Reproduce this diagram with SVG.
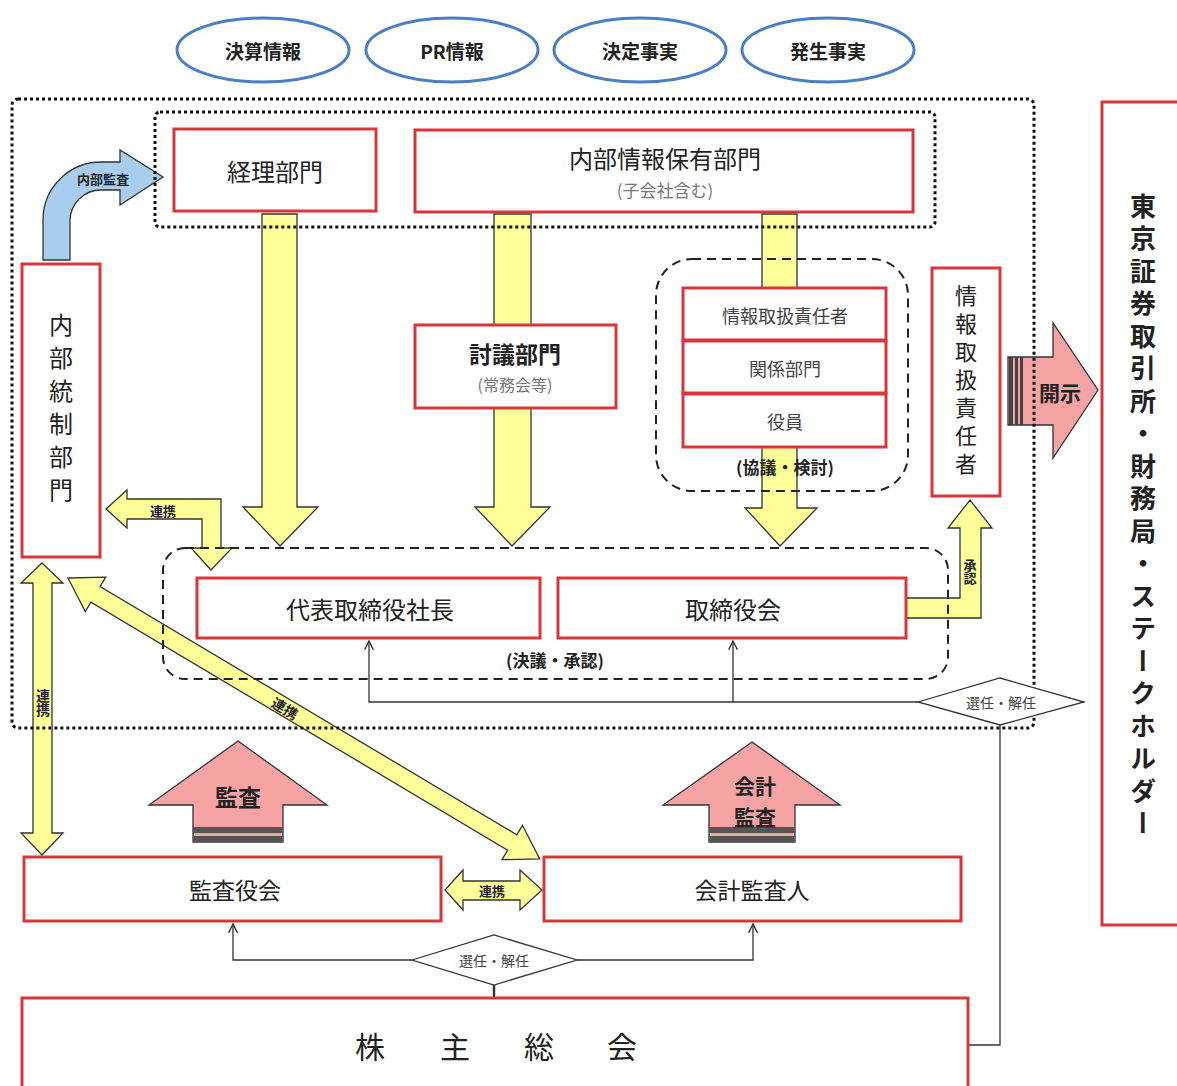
<svg xmlns="http://www.w3.org/2000/svg" width="1177" height="1086" viewBox="0 0 1177 1086">
<style>
.t{font-family:"Noto Sans CJK JP","Noto Sans",sans-serif;text-anchor:middle;dominant-baseline:central;fill:#222}
.v{font-family:"Noto Sans CJK JP",sans-serif;writing-mode:vertical-rl;text-anchor:middle;fill:#222}
.b{font-weight:700}
.g{fill:#777}
.box{fill:#fff;stroke:#d9363a;stroke-width:3}
.ell{fill:#fff;stroke:#4a7fc8;stroke-width:3}
.ya{fill:#ffff99;stroke:#333;stroke-width:1.3;stroke-linejoin:miter}
.pa{fill:#f5a3a3;stroke:#333;stroke-width:1.3}
.ba{fill:#a9cdec;stroke:#333;stroke-width:1.3}
.ln{fill:none;stroke:#333;stroke-width:1.3}
.dot{fill:none;stroke:#111;stroke-width:3;stroke-dasharray:3 3}
.dash{fill:none;stroke:#222;stroke-width:2;stroke-dasharray:9 6}
.dia{fill:#fff;stroke:#333;stroke-width:1.3}
</style>
<defs>
<marker id="open" viewBox="0 0 10 10" refX="9" refY="5" markerWidth="11" markerHeight="11" markerUnits="userSpaceOnUse" orient="auto">
<path d="M1,1 L9,5 L1,9" fill="none" stroke="#333" stroke-width="1.3"/>
</marker>
</defs>

<g id="connectors">
<!-- yellow down arrows -->
<polygon class="ya" points="262,214 297,214 297,507 318,507 280,546 243,507 262,507"/>
<polygon class="ya" points="494,214 531,214 531,507 550,507 512,546 475,507 494,507"/>
<polygon class="ya" points="762,214 797,214 797,508 817,508 780,546 745,508 762,508"/>
<!-- approval arrow -->
<polygon class="ya" points="906,598 960,598 960,528 948,528 970,500 992,528 981,528 981,618 906,618"/>
<!-- internal audit arrow -->
<path class="ba" d="M43 260 L43 220 A58 58 0 0 1 101 162 L120 162 L120 150 L163 177 L120 205 L120 190 L101 190 A31 31 0 0 0 70 221 L70 260 Z"/>
<!-- 連携 bent arrow -->
<polygon class="ya" points="106,509 127,490 127,499 221,499 221,548 232,548 211,570 191,548 202,548 202,519 127,519 127,528"/>
<!-- vertical double arrow left -->
<polygon class="ya" points="42,563 63,583 52,583 52,833 63,833 42,855 21,833 33,833 33,583 21,583"/>
<!-- diagonal double arrow -->
<g transform="translate(68,578) rotate(30.77)">
<polygon class="ya" points="0,0 32,-20 32,-9 517,-9 517,-20 549,0 517,20 517,9 32,9 32,20"/>
</g>
<!-- horizontal double arrow bottom -->
<polygon class="ya" points="445,890 463,870 463,881 520,881 520,870 542,890 520,910 520,900 463,900 463,910"/>
<!-- 監査 arrows -->
<polygon class="pa" points="238,741 327,805 283,805 283,842 193,842 193,805 149,805"/>
<rect x="193" y="827" width="90" height="6" fill="#555"/>
<rect x="193" y="836" width="90" height="6" fill="#555"/>
<polygon class="pa" points="752,742 840,805 795,805 795,842 709,842 709,805 663,805"/>
<rect x="709" y="827" width="86" height="6" fill="#555"/>
<rect x="709" y="836" width="86" height="6" fill="#555"/>
<!-- 開示 arrow -->
<polygon class="pa" points="1008,357 1053,357 1053,323 1098,390 1053,458 1053,425 1008,425"/>
<rect x="1009" y="357" width="4" height="68" fill="#444"/>
<rect x="1015" y="357" width="3" height="68" fill="#444"/>
<rect x="1020" y="357" width="3" height="68" fill="#444"/>
<!-- thin lines -->
<path class="ln" d="M918 702 H369 V641" marker-end="url(#open)"/>
<path class="ln" d="M733 702 V641" marker-end="url(#open)"/>
<path class="ln" d="M1000 725 V1045 H968"/>
<path class="ln" d="M412 960 H233 V924" marker-end="url(#open)"/>
<path class="ln" d="M577 960 H753 V924" marker-end="url(#open)"/>
<path class="ln" d="M494 985 V998" style="stroke-width:2.5"/>
</g>

<g id="containers">
<rect class="dot" x="12" y="99" width="1022" height="629" rx="6"/>
<rect class="dot" x="155" y="112" width="780" height="115" rx="5"/>
<rect class="dash" x="656" y="259" width="252" height="232" rx="36"/>
<rect class="dash" x="163" y="548" width="785" height="131" rx="22"/>
</g>

<g id="ellipse-kessan"><ellipse class="ell" cx="263" cy="50" rx="86" ry="32"/><text class="t b" x="263" y="50" font-size="19">決算情報</text></g>
<g id="ellipse-pr"><ellipse class="ell" cx="452" cy="50" rx="86" ry="32"/><text class="t b" x="452" y="50" font-size="19">PR情報</text></g>
<g id="ellipse-kettei"><ellipse class="ell" cx="640" cy="50" rx="86" ry="32"/><text class="t b" x="640" y="50" font-size="19">決定事実</text></g>
<g id="ellipse-hassei"><ellipse class="ell" cx="828" cy="50" rx="86" ry="32"/><text class="t b" x="828" y="50" font-size="19">発生事実</text></g>

<g id="keiri"><rect class="box" x="174" y="129" width="202" height="82"/><text class="t" x="275" y="170" font-size="24">経理部門</text></g>
<g id="naibu-joho"><rect class="box" x="415" y="130" width="498" height="82"/><text class="t" x="665" y="157" font-size="24">内部情報保有部門</text><text class="t g" x="665" y="189" font-size="17">(子会社含む)</text></g>
<g id="naibu-tosei"><rect class="box" x="22" y="264" width="78" height="293"/><text class="v" x="61" y="412" font-size="24" style="letter-spacing:9px">内部統制部門</text></g>
<g id="togi"><rect class="box" x="415" y="325" width="201" height="83"/><text class="t b" x="515" y="353" font-size="23">討議部門</text><text class="t g" x="515" y="384" font-size="16">(常務会等)</text></g>
<g id="kyogi">
<rect class="box" x="683" y="288" width="203" height="52"/><text class="t" x="785" y="315" font-size="18" style="fill:#444">情報取扱責任者</text>
<rect class="box" x="683" y="341" width="203" height="52"/><text class="t" x="785" y="368" font-size="18" style="fill:#444">関係部門</text>
<rect class="box" x="683" y="394" width="203" height="53"/><text class="t" x="785" y="421" font-size="18" style="fill:#444">役員</text>
<text class="t b" x="785" y="466" font-size="17">(協議・検討)</text>
</g>
<g id="joho-sekinin"><rect class="box" x="932" y="268" width="68" height="228"/><text class="v" x="966" y="383" font-size="22" style="letter-spacing:6px">情報取扱責任者</text></g>
<g id="shacho"><rect class="box" x="197" y="578" width="343" height="60"/><text class="t" x="370" y="608" font-size="24">代表取締役社長</text></g>
<g id="torishimariyaku"><rect class="box" x="558" y="578" width="348" height="60"/><text class="t" x="733" y="608" font-size="24">取締役会</text><text class="t b" x="555" y="659" font-size="17">(決議・承認)</text></g>
<g id="senin-top"><polygon class="dia" points="918,702 1000,678 1084,702 1000,725"/><text class="t" x="1001" y="702" font-size="14" style="fill:#444">選任・解任</text></g>
<g id="tse"><rect class="box" x="1102" y="102" width="90" height="823"/><text class="v b" x="1143" y="518" font-size="26" style="letter-spacing:6.5px">東京証券取引所・財務局・ステークホルダー</text></g>
<g id="kansayakukai"><rect class="box" x="24" y="857" width="417" height="64"/><text class="t" x="235" y="889" font-size="23">監査役会</text></g>
<g id="kaikei"><rect class="box" x="544" y="857" width="417" height="64"/><text class="t" x="752" y="889" font-size="23">会計監査人</text></g>
<g id="senin-bottom"><polygon class="dia" points="412,960 494,935 577,960 494,985"/><text class="t" x="494" y="960" font-size="14" style="fill:#444">選任・解任</text></g>
<g id="kabunushi"><rect class="box" x="22" y="998" width="946" height="110"/><text class="t" x="370" y="1045" font-size="30">株</text><text class="t" x="455" y="1045" font-size="30">主</text><text class="t" x="539" y="1045" font-size="30">総</text><text class="t" x="622" y="1045" font-size="30">会</text></g>

<g id="labels">
<text class="t b" x="103" y="178" font-size="13">内部監査</text>
<text class="t b" x="163" y="510" font-size="13">連携</text>
<text class="v b" x="43" y="703" font-size="14">連携</text>
<text class="t b" x="285" y="708" font-size="14" transform="rotate(30.77 285 708)">連携</text>
<text class="t b" x="492" y="890" font-size="13">連携</text>
<text class="v b" x="970" y="572" font-size="13">承認</text>
<text class="t b" x="238" y="796" font-size="23">監査</text>
<text class="t b" x="755" y="785" font-size="21">会計</text>
<text class="t b" x="755" y="816" font-size="21">監査</text>
<text class="t b" x="1060" y="392" font-size="21">開示</text>
</g>
</svg>
